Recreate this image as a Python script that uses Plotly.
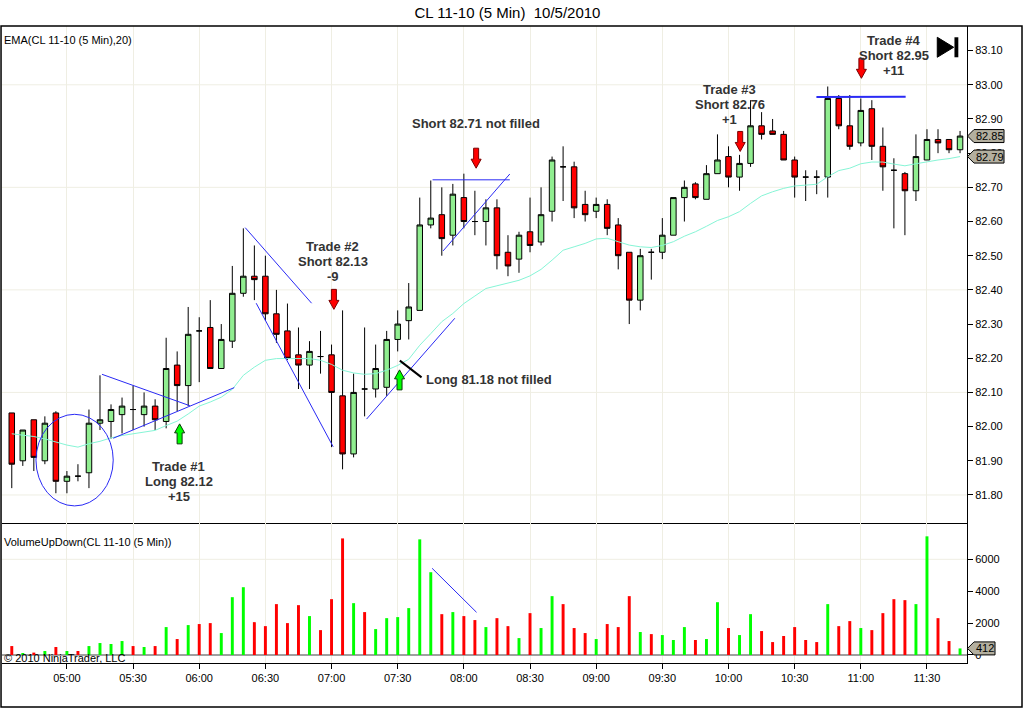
import pandas as pd
import plotly.graph_objects as go

# 5-minute bars, CL 11-10, 04:35 .. 11:45
times = pd.date_range("2010-10-05 04:35", periods=87, freq="5min")

opens = [82.04, 81.90, 82.02, 81.90, 82.04, 81.84, 81.855, 81.865, 82.01, 82.015,
         82.035, 82.05, 82.035, 82.06, 82.015, 82.18, 82.12, 82.28, 82.29, 82.17,
         82.25, 82.39, 82.44, 82.44, 82.33, 82.28, 82.21, 82.18, 82.205, 82.21,
         82.09, 81.92, 82.11, 82.11, 82.115, 82.255, 82.31, 82.34, 82.59, 82.62,
         82.56, 82.67, 82.60, 82.60, 82.64, 82.51, 82.49, 82.57, 82.54, 82.63,
         82.76, 82.76, 82.65, 82.63, 82.65, 82.59, 82.51, 82.37, 82.51, 82.51,
         82.56, 82.67, 82.71, 82.665, 82.74, 82.79, 82.73, 82.77, 82.88, 82.865,
         82.855, 82.78, 82.73, 82.73, 82.73, 82.96, 82.88, 82.83, 82.93, 82.82,
         82.75, 82.74, 82.69, 82.78, 82.84, 82.84, 82.81]
highs = [82.04, 81.99, 82.02, 82.03, 82.045, 81.87, 81.89, 82.05, 82.15, 82.065,
         82.085, 82.12, 82.10, 82.08, 82.26, 82.22, 82.35, 82.32, 82.37, 82.30,
         82.47, 82.58, 82.53, 82.50, 82.40, 82.36, 82.29, 82.25, 82.28, 82.24,
         82.34, 82.155, 82.29, 82.24, 82.28, 82.34, 82.42, 82.67, 82.72, 82.70,
         82.71, 82.74, 82.69, 82.665, 82.665, 82.56, 82.57, 82.67, 82.70, 82.79,
         82.82, 82.775, 82.69, 82.67, 82.665, 82.61, 82.51, 82.52, 82.52, 82.61,
         82.67, 82.72, 82.715, 82.765, 82.855, 82.82, 82.795, 82.955, 82.92, 82.90,
         82.865, 82.79, 82.75, 82.75, 82.995, 82.97, 82.97, 82.96, 82.955, 82.875,
         82.785, 82.745, 82.855, 82.87, 82.87, 82.84, 82.865]
lows = [81.82, 81.885, 81.87, 81.89, 81.805, 81.805, 81.84, 81.82, 81.99, 81.965,
        81.98, 81.99, 82.00, 81.99, 81.995, 82.045, 82.06, 82.13, 82.17, 82.17,
        82.23, 82.38, 82.37, 82.31, 82.245, 82.195, 82.11, 82.11, 82.155, 81.94,
        81.875, 81.91, 82.03, 82.085, 82.09, 82.22, 82.255, 82.34, 82.58, 82.50,
        82.53, 82.58, 82.56, 82.53, 82.46, 82.44, 82.45, 82.51, 82.53, 82.60,
        82.66, 82.61, 82.60, 82.61, 82.56, 82.46, 82.30, 82.34, 82.43, 82.49,
        82.56, 82.60, 82.665, 82.665, 82.74, 82.70, 82.69, 82.76, 82.84, 82.855,
        82.78, 82.67, 82.66, 82.68, 82.67, 82.87, 82.81, 82.82, 82.78, 82.69,
        82.58, 82.56, 82.66, 82.78, 82.80, 82.80, 82.80]
closes = [81.89, 81.99, 81.91, 82.01, 81.84, 81.855, 81.855, 82.01, 82.02, 82.05,
          82.06, 82.05, 82.06, 82.02, 82.17, 82.12, 82.27, 82.28, 82.17, 82.255,
          82.39, 82.44, 82.43, 82.33, 82.27, 82.20, 82.18, 82.22, 82.205, 82.10,
          81.92, 82.10, 82.11, 82.17, 82.255, 82.30, 82.35, 82.59, 82.61, 82.55,
          82.68, 82.60, 82.60, 82.64, 82.50, 82.47, 82.56, 82.53, 82.62, 82.78,
          82.76, 82.64, 82.62, 82.65, 82.58, 82.50, 82.37, 82.50, 82.51, 82.56,
          82.67, 82.70, 82.67, 82.74, 82.78, 82.73, 82.77, 82.88, 82.855, 82.855,
          82.78, 82.73, 82.73, 82.73, 82.96, 82.88, 82.82, 82.925, 82.82, 82.76,
          82.75, 82.69, 82.79, 82.84, 82.83, 82.81, 82.85]
ema20 = [81.979, 81.975, 81.971, 81.964, 81.954, 81.946, 81.940, 81.950, 81.957, 81.967,
         81.974, 81.979, 81.984, 81.989, 82.003, 82.016, 82.037, 82.060, 82.072, 82.086,
         82.109, 82.150, 82.174, 82.194, 82.199, 82.199, 82.198, 82.199, 82.194, 82.182,
         82.165, 82.157, 82.153, 82.155, 82.165, 82.179, 82.197, 82.238, 82.272, 82.307,
         82.331, 82.360, 82.382, 82.404, 82.412, 82.420, 82.428, 82.441, 82.460, 82.487,
         82.516, 82.526, 82.536, 82.549, 82.551, 82.541, 82.531, 82.526, 82.524, 82.530,
         82.541, 82.557, 82.570, 82.586, 82.603, 82.614, 82.629, 82.653, 82.675, 82.687,
         82.697, 82.704, 82.706, 82.709, 82.731, 82.749, 82.756, 82.769, 82.774, 82.774,
         82.768, 82.763, 82.769, 82.775, 82.780, 82.784, 82.790]
volumes = [560, 125, 150, 250, 500, 250, 250, 560, 750, 690,
           875, 560, 500, 560, 1750, 1000, 1875, 1940, 2000, 1375,
           3625, 4250, 2060, 1810, 3190, 2000, 3125, 2440, 1560, 3500,
           7310, 3250, 2690, 1625, 2310, 2375, 2940, 7250, 5190, 2560,
           2690, 2440, 2190, 1750, 2310, 1810, 1060, 2625, 1690, 3690,
           3190, 1690, 1375, 1000, 1940, 1750, 3690, 1440, 1310, 1250,
           940, 1750, 940, 1000, 3310, 1690, 1250, 2560, 1500, 810,
           1190, 1750, 940, 810, 3190, 1810, 2125, 1690, 1560, 2625,
           3500, 3440, 3190, 7440, 2310, 875, 412]

price_grid = [81.80, 82.10, 82.40, 82.70, 83.00]
volume_grid = [6000]
price_ticks = [81.80 + 0.1 * k for k in range(14)]
volume_ticks = [0, 2000, 4000, 6000]

# chart drawings (time, price)
trade_notes = [
    ("05:50:48", 81.8835, ["Trade #1", "Long 82.12", "+15"], "center"),
    ("07:00:36", 82.526, ["Trade #2", "Short 82.13", "-9"], "center"),
    ("08:05:24", 82.888, ["Short 82.71 not filled"], "center"),
    ("07:41:51", 82.137, ["Long 81.18 not filled"], "left"),
    ("10:00:34", 82.986, ["Trade #3", "Short 82.76", "+1"], "center"),
    ("11:14:54", 83.130, ["Trade #4", "Short 82.95", "+11"], "center"),
]
arrows = [
    ("05:51:06", 82.008, "up"),
    ("07:01:04", 82.343, "down"),
    ("08:05:34", 82.756, "down"),
    ("07:30:50", 82.166, "up"),
    ("10:05:18", 82.805, "down"),
    ("11:00:16", 83.019, "down"),
]
blue_lines = [
    ("05:15:54", 82.153, "05:55:47", 82.061, 1),
    ("05:21:00", 81.966, "06:15:52", 82.114, 1),
    ("06:20:51", 82.582, "06:50:57", 82.361, 1),
    ("06:25:50", 82.361, "07:00:44", 81.941, 1),
    ("07:15:53", 82.022, "07:55:54", 82.317, 1),
    ("07:45:48", 82.722, "08:20:50", 82.722, 1),
    ("07:50:36", 82.514, "08:20:50", 82.739, 1),
    ("10:39:52", 82.964, "11:20:20", 82.965, 2),
]
black_line = ("07:30:58", 82.193, "07:40:49", 82.144)
circle = ("04:45:58", 81.768, "05:21:00", 82.036)
volume_line = ("07:45:36", 5436, "08:05:45", 2677)


def d(hms):
    return "2010-10-05 " + hms


GRID = "#efeee3"
TEXT = "#333333"
FONT = "Arial, Liberation Sans, sans-serif"

vol_colors = ["#00ff00" if c > o else "#ff0000" for o, c in zip(opens, closes)]

fig = go.Figure()
fig.add_trace(go.Candlestick(
    x=times, open=opens, high=highs, low=lows, close=closes,
    increasing=dict(fillcolor="#90ee90", line=dict(color="black", width=1)),
    decreasing=dict(fillcolor="#ff0000", line=dict(color="black", width=1)),
    xaxis="x", yaxis="y", hoverinfo="skip"))
fig.add_trace(go.Scatter(x=times, y=ema20, mode="lines",
                         line=dict(color="#86f5d6", width=1),
                         xaxis="x", yaxis="y", hoverinfo="skip"))
fig.add_trace(go.Bar(x=times, y=volumes, marker=dict(color=vol_colors, line=dict(width=0)),
                     width=80000, xaxis="x2", yaxis="y2", hoverinfo="skip"))

shapes = []
for p in price_grid:
    shapes.append(dict(type="line", xref="paper", yref="y", x0=0, x1=1, y0=p, y1=p,
                       line=dict(color=GRID, width=1), layer="below"))
for v in volume_grid:
    shapes.append(dict(type="line", xref="paper", yref="y2", x0=0, x1=1, y0=v, y1=v,
                       line=dict(color=GRID, width=1), layer="below"))

for t0, p0, t1, p1, w in blue_lines:
    shapes.append(dict(type="line", xref="x", yref="y", x0=d(t0), y0=p0, x1=d(t1), y1=p1,
                       line=dict(color="#2a2af5", width=w)))
t0, p0, t1, p1 = black_line
shapes.append(dict(type="line", xref="x", yref="y", x0=d(t0), y0=p0, x1=d(t1), y1=p1,
                   line=dict(color="black", width=2)))
t0, p0, t1, p1 = circle
shapes.append(dict(type="circle", xref="x", yref="y", x0=d(t0), y0=p0, x1=d(t1), y1=p1,
                   line=dict(color="#2a2af5", width=1)))
t0, v0, t1, v1 = volume_line
shapes.append(dict(type="line", xref="x2", yref="y2", x0=d(t0), y0=v0, x1=d(t1), y1=v1,
                   line=dict(color="#2a2af5", width=1)))

for t, p, kind in arrows:
    s = 1 if kind == "down" else -1
    path = "M0,0 L-5,{a} L-2.5,{a} L-2.5,{b} L2.5,{b} L2.5,{a} L5,{a} Z".format(a=9 * s, b=20 * s)
    fill, edge = ("#ff0000", "#7a0000") if kind == "down" else ("#00ff00", "#0a3a0a")
    shapes.append(dict(type="path", xref="x", yref="y", xsizemode="pixel", ysizemode="pixel",
                       xanchor=d(t), yanchor=p, path=path, fillcolor=fill,
                       line=dict(color=edge, width=1)))

# last value tags on the right axis
tags = [("y", closes[-1], "{:.2f}".format(closes[-1]), 30),
        ("y", ema20[-1], "{:.2f}".format(ema20[-1]), 30),
        ("y2", volumes[-1], str(volumes[-1]), 21)]
tag_x = (974 - 2) / 965
for yref, val, txt, w in tags:
    shapes.append(dict(type="path", xref="paper", yref=yref, xsizemode="pixel", ysizemode="pixel",
                       xanchor=tag_x, yanchor=val,
                       path="M-6.5,0 L0,6.5 L{w},6.5 L{w},-6.5 L0,-6.5 Z".format(w=w),
                       fillcolor="#b3af9f", line=dict(color="black", width=1)))

# play button, outer frame
shapes.append(dict(type="path", xref="paper", yref="paper",
                   path="M0.9692,0.9823 L0.9692,0.9509 L0.9862,0.9666 Z",
                   fillcolor="black", line=dict(color="black", width=1)))
shapes.append(dict(type="rect", xref="paper", yref="paper", x0=0.9870, x1=0.9910,
                   y0=0.9509, y1=0.9823, fillcolor="black", line=dict(width=0)))
shapes.append(dict(type="rect", xref="paper", yref="paper", x0=-0.001, x1=1.0570,
                   y0=-0.069, y1=1.0, line=dict(color="black", width=1.5)))

annotations = []
for t, p, lines, anchor in trade_notes:
    for k, line in enumerate(lines):
        annotations.append(dict(x=d(t), y=p, xref="x", yref="y", text="<b>" + line + "</b>",
                                showarrow=False, xanchor=anchor, yanchor="middle",
                                yshift=-15 * k, font=dict(family=FONT, size=13, color=TEXT)))
for yref, val, txt, w in tags:
    annotations.append(dict(x=tag_x, y=val, xref="paper", yref=yref, text=txt, showarrow=False,
                            xanchor="left", yanchor="middle", xshift=0,
                            font=dict(family=FONT, size=11, color="black")))
annotations.append(dict(x=0, y=(663 - 40) / 637, xref="paper", yref="paper",
                        text="EMA(CL 11-10 (5 Min),20)", showarrow=False,
                        xanchor="left", yanchor="middle", font=dict(family=FONT, size=11)))
annotations.append(dict(x=0, y=(663 - 541.5) / 637, xref="paper", yref="paper",
                        text="VolumeUpDown(CL 11-10 (5 Min))", showarrow=False,
                        xanchor="left", yanchor="middle", font=dict(family=FONT, size=11)))
annotations.append(dict(x=0, y=(663 - 657.5) / 637, xref="paper", yref="paper",
                        text="© 2010 NinjaTrader, LLC", showarrow=False,
                        xanchor="left", yanchor="middle", font=dict(family=FONT, size=11)))

x_range = ["2010-10-05 04:30:34", "2010-10-05 11:48:09"]
split = (663 - 523) / 637

fig.update_layout(
    width=1024, height=709,
    margin=dict(l=2, r=57, t=26, b=46),
    paper_bgcolor="white", plot_bgcolor="white",
    showlegend=False, hovermode=False,
    boxgap=0.5, boxgroupgap=0,
    font=dict(family=FONT, size=11, color="black"),
    title=dict(text="CL 11-10 (5 Min)\u00a0\u00a010/5/2010", x=0.4956, xanchor="center",
               xref="container", y=(709 - 13) / 709, yanchor="middle",
               font=dict(family=FONT, size=15, color="black")),
    xaxis=dict(domain=[0, 1], anchor="y", type="date", range=x_range,
               tick0="2010-10-05 05:00", dtick=1800000, showticklabels=False, ticks="",
               showgrid=True, gridcolor=GRID, zeroline=False,
               showline=True, linecolor="black", linewidth=1,
               rangeslider=dict(visible=False)),
    xaxis2=dict(domain=[0, 1], anchor="y2", type="date", matches="x", range=x_range,
                tick0="2010-10-05 05:00", dtick=1800000, tickformat="%H:%M",
                ticks="outside", ticklen=5, tickcolor="black",
                showgrid=True, gridcolor=GRID, zeroline=False,
                showline=True, linecolor="black", linewidth=1),
    yaxis=dict(domain=[split, 1], anchor="x", side="right", range=[81.718, 83.172],
               tickvals=price_ticks, tickformat=".2f", ticks="outside", ticklen=5,
               tickcolor="black", showgrid=False, zeroline=False,
               showline=True, linecolor="black", linewidth=1),
    yaxis2=dict(domain=[0, split], anchor="x2", side="right", range=[-502, 8276],
                tickvals=volume_ticks, ticks="outside", ticklen=5, tickcolor="black",
                showgrid=False, zeroline=True, zerolinecolor="#a0a0a0", zerolinewidth=2,
                showline=True, linecolor="black", linewidth=1),
    shapes=shapes,
    annotations=annotations,
)

# the page body has a default 8px margin; drop it so the figure sits at the window origin
fig.write_html("out.html", config={"displayModeBar": False},
               post_script="document.body.style.margin='0';")
